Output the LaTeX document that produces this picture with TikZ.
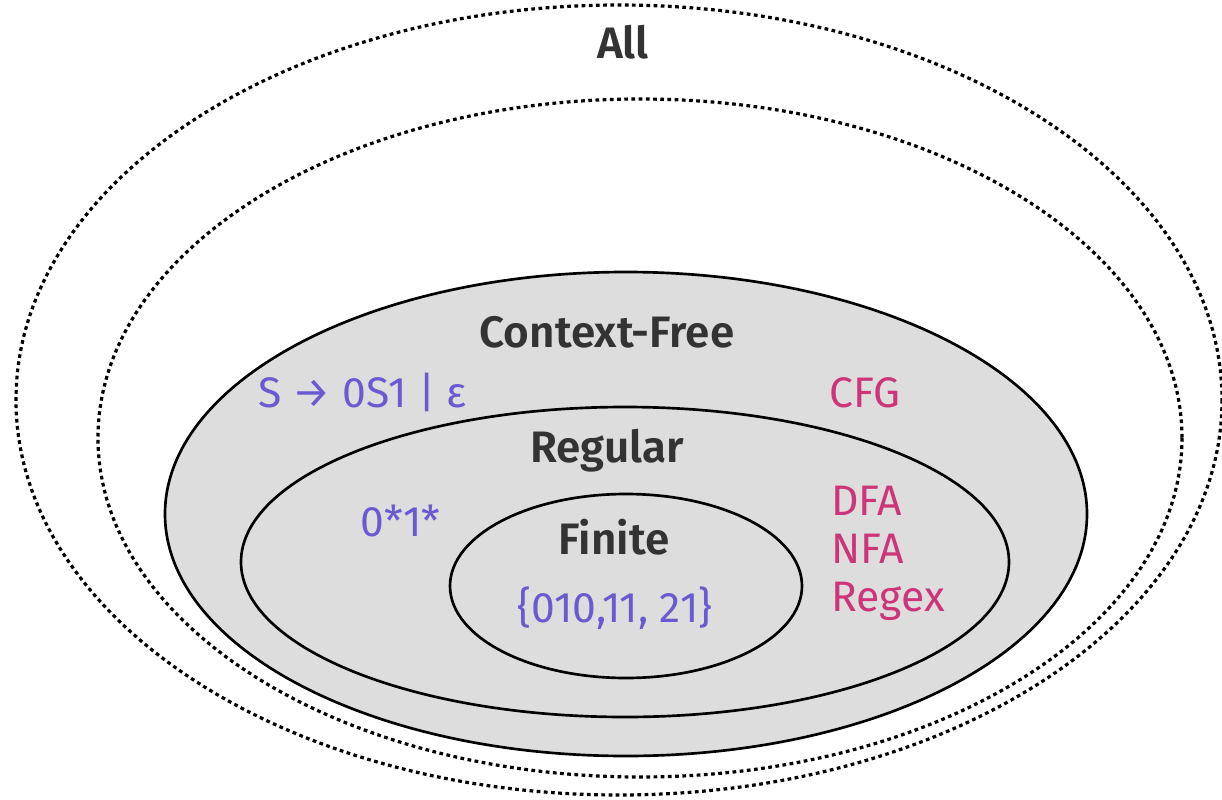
\documentclass[tikz,border=0pt]{standalone}
\usepackage{fontspec}
\setmainfont{Fira Sans}[BoldFont={Fira Sans SemiBold}]
\definecolor{setgray}{RGB}{221,221,221}
\definecolor{titlegray}{RGB}{51,51,51}
\definecolor{exviolet}{RGB}{106,90,210}
\definecolor{modelpink}{RGB}{206,52,120}
\tikzset{
  setline/.style={line width=2pt},
  allline/.style={line width=2.4pt, dash pattern=on 2.8pt off 2.6pt},
  settitle/.style={inner sep=0pt, font=\fontsize{33}{38}\selectfont\bfseries, text=titlegray},
  example/.style={inner sep=0pt, font=\fontsize{32}{38}\selectfont, text=exviolet},
  model/.style={inner sep=0pt, font=\fontsize{32}{38}\selectfont, text=modelpink}
}
\begin{document}
\begin{tikzpicture}[x=0.75pt,y=0.75pt,yscale=-1,xscale=1]
    \useasboundingbox (0,0) rectangle (1222,800);

    %Dashed sets
    \draw [allline] (619,400) ellipse [x radius=603, y radius=395];
    \draw [allline] (640,438) ellipse [x radius=542, y radius=339];
    %Context-Free
    \draw [setline, fill=setgray] (626,514) ellipse [x radius=461, y radius=242];
    %Regular
    \draw [setline] (625,562) ellipse [x radius=384, y radius=155];
    %Finite
    \draw [setline] (626,586) ellipse [x radius=176, y radius=92];

    % Text Node
    \node [settitle, anchor=base] (all) at (623,58) {All};
    % Text Node
    \node [settitle, anchor=base] (cf) at (607,347) {Context-Free};
    % Text Node
    \node [settitle, anchor=base] (reg) at (607,462) {Regular};
    % Text Node
    \node [settitle, anchor=base] (fin) at (614,554) {Finite};
    % Text Node
    \node [example, anchor=base west] (cfex) at (258,407) {S → 0S1 | ε};
    % Text Node
    \node [example, anchor=base west] (regex) at (360,536) {0*1*};
    % Text Node
    \node [example, anchor=base] (finex) at (615,622) {\{010,11, 21\}};
    % Text Node
    \node [model, anchor=base west] (cfg) at (829,407) {CFG};
    % Text Node
    \node [model, anchor=base west] (dfa) at (831,515) {DFA};
    % Text Node
    \node [model, anchor=base west] (nfa) at (831,563) {NFA};
    % Text Node
    \node [model, anchor=base west] (rgx) at (831,611) {Regex};
\end{tikzpicture}
\end{document}
